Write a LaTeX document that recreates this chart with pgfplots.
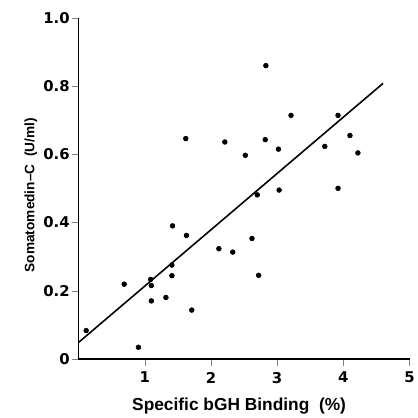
\documentclass[border=0pt]{standalone}
\usepackage{pgfplots}
\pgfplotsset{compat=1.18}
\usepackage{fontspec}
\setmainfont{Liberation Sans}
\newfontfamily\dejavu{DejaVu Sans}

\begin{document}
\begin{tikzpicture}
  \begin{axis}[
    scale only axis,
    width=333bp, height=343bp,
    xmin=0, xmax=5, ymin=0, ymax=1,
    axis lines*=left,
    line width=1.8pt,
    clip=false,
    tick align=outside,
    major tick length=7bp,
    xtick={1,2,3,4,5},
    xticklabels={1,2,3,4,5},
    ytick={0,0.2,0.4,0.6,0.8,1.0},
    yticklabels={0,0.2,0.4,0.6,0.8,1.0},
    ticklabel style={font=\dejavu\bfseries\fontsize{15}{15}\selectfont},
    yticklabel style={inner sep=1bp},
    xticklabel style={yshift=-2bp},
    xlabel={Specific bGH Binding\ \ (\%)},
    ylabel={Somatomedin--C\ \ (U/ml)},
    xlabel style={font=\bfseries\fontsize{17.5}{18}\selectfont,
      at={(rel axis cs:0.485,0)}, anchor=center, yshift=-48bp},
    ylabel style={font=\bfseries\fontsize{13.8}{15}\selectfont,
      at={(rel axis cs:0,0.48)}, anchor=center, yshift=48bp},
  ]
    % heavier axis lines, as in the printed figure
    \draw[line width=1.6pt, black] (rel axis cs:0,1) -- (rel axis cs:0,0) -- (rel axis cs:1,0);
    \addplot[only marks, mark=*, mark size=2.4bp, line width=0.6pt, black] coordinates {
      (0.115,0.083) (0.69,0.219) (0.905,0.034) (1.09,0.233) (1.10,0.215)
      (1.10,0.17) (1.32,0.18) (1.41,0.244) (1.41,0.275) (1.42,0.39)
      (1.63,0.362) (1.71,0.143) (1.62,0.646) (2.12,0.323) (2.21,0.636)
      (2.33,0.313) (2.52,0.597) (2.62,0.353) (2.70,0.481) (2.72,0.245)
      (2.82,0.643) (2.83,0.86) (3.02,0.615) (3.03,0.495) (3.21,0.714)
      (3.72,0.623) (3.92,0.714) (3.92,0.50) (4.10,0.655) (4.22,0.604)
    };
    \addplot[line width=1.6pt, black] coordinates {(0,0.048) (4.6,0.808)};
  \end{axis}
  \path (current axis.south west) ++(-79bp,-57bp) rectangle ++(417bp,418bp);
\end{tikzpicture}
\end{document}
